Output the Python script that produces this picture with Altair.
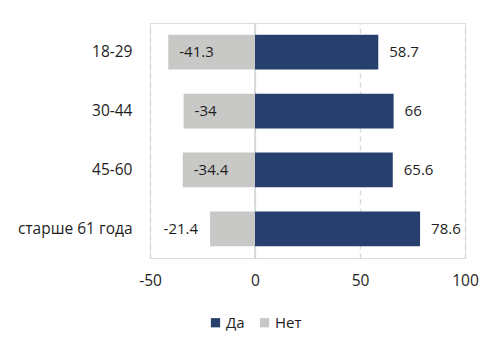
import altair as alt
import pandas as pd

categories = ["18-29", "30-44", "45-60", "старше 61 года"]
da_values = [58.7, 66, 65.6, 78.6]
net_values = [-41.3, -34, -34.4, -21.4]
series = ["Да", "Нет"]
x_ticks = [-50, 0, 50, 100]

rows = []
for c, v in zip(categories, da_values):
    rows.append({"cat": c, "series": "Да", "value": v, "label": f"{v:g}"})
for c, v in zip(categories, net_values):
    rows.append({"cat": c, "series": "Нет", "value": v, "label": f"{v:g}"})
df = pd.DataFrame(rows)

FONT = "Open Sans"
TXT = "#1e1e1e"

x_enc = alt.X("value:Q", scale=alt.Scale(domain=[-50, 100], nice=False, zero=False),
              axis=alt.Axis(values=x_ticks, title=None, domain=False, ticks=False,
                            grid=True, gridDash=[5, 4], gridColor="#d9d9d9", gridWidth=1.5,
                            labelFontSize=15.5, labelColor=TXT, labelFont=FONT, labelPadding=15,
                            labelFlush=False, labelExpr="toString(datum.value)"))
y_enc = alt.Y("cat:N", sort=categories,
              scale=alt.Scale(paddingInner=0.41, paddingOuter=0.2),
              axis=alt.Axis(title=None, domain=False, ticks=False, labelFontSize=15.5,
                            labelColor=TXT, labelFont=FONT, labelPadding=18))

base = alt.Chart(df)

bars = base.mark_bar().encode(
    x=x_enc,
    y=y_enc,
    color=alt.Color("series:N", scale=alt.Scale(domain=series, range=["#263F6D", "#C8C8C6"]),
                    legend=alt.Legend(title=None, orient="none", legendX=58, legendY=292,
                                      direction="horizontal", symbolType="square",
                                      symbolSize=85, symbolStrokeWidth=0, labelFontSize=15,
                                      labelFont=FONT, labelColor=TXT, columnPadding=12,
                                      labelOffset=3)),
)

zero_rule = alt.Chart(pd.DataFrame({"z": [0]})).mark_rule(color="#d0d0d0", strokeWidth=1.5).encode(
    x=alt.X("z:Q")
)

text_style = dict(fontSize=15, font=FONT, color=TXT, baseline="middle")

da_labels = base.transform_filter(alt.datum.series == "Да").mark_text(
    align="left", dx=11, **text_style
).encode(x="value:Q", y=alt.Y("cat:N", sort=categories), text="label:N")

net_labels_in = base.transform_filter(
    (alt.datum.series == "Нет") & (alt.datum.value <= -25)
).mark_text(align="left", dx=11, **text_style).encode(
    x="value:Q", y=alt.Y("cat:N", sort=categories), text="label:N")

net_labels_out = base.transform_filter(
    (alt.datum.series == "Нет") & (alt.datum.value > -25)
).mark_text(align="right", dx=-12, **text_style).encode(
    x="value:Q", y=alt.Y("cat:N", sort=categories), text="label:N")

chart = alt.layer(zero_rule, bars, da_labels, net_labels_in, net_labels_out).properties(
    width=315, height=235,
    autosize=alt.AutoSizeParams(type="none"),
    padding={"left": 150, "top": 23, "right": 34, "bottom": 94},
).configure_view(stroke=None).configure(background="white")

chart.save("out.html", embed_options={"renderer": "svg", "actions": False})
